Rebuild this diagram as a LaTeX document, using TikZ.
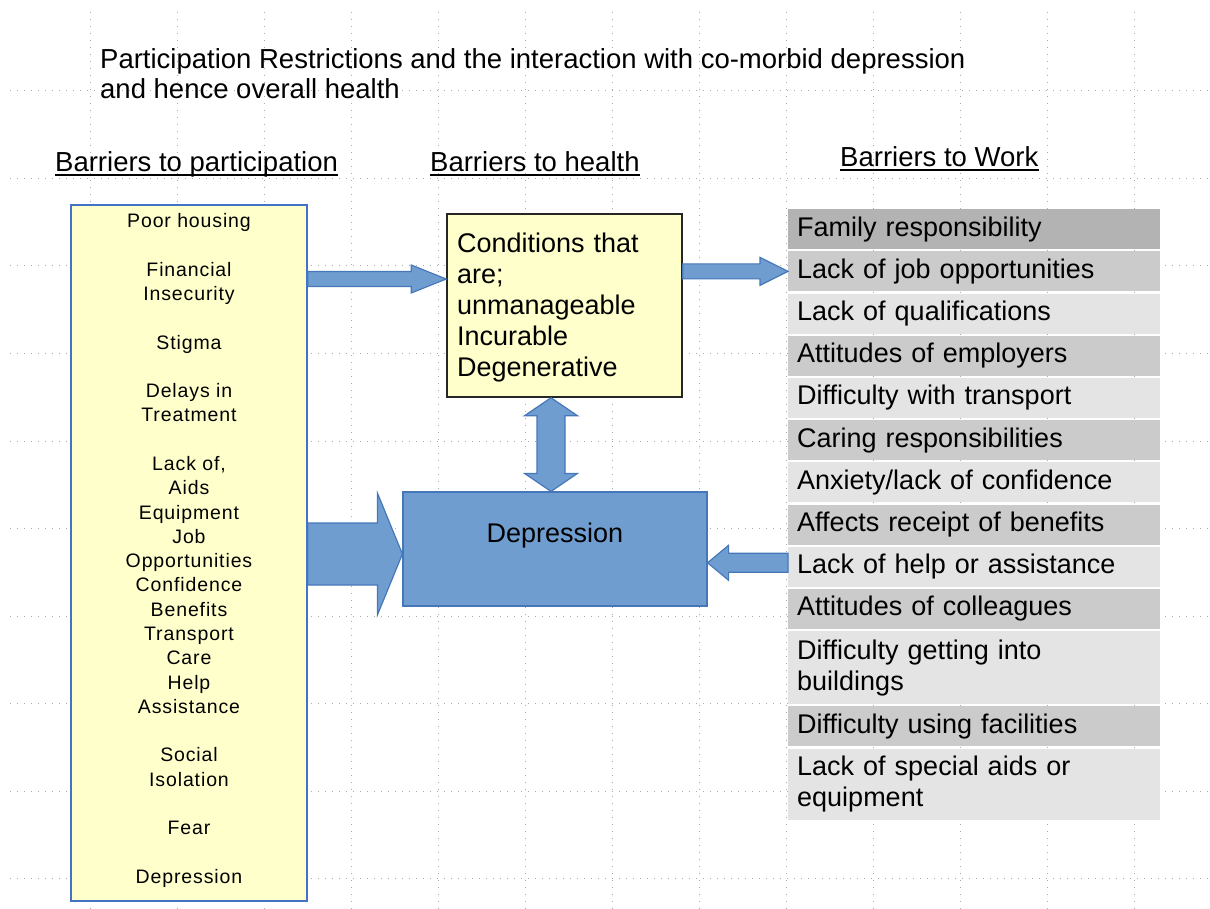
\documentclass[tikz,border=0pt]{standalone}
\usepackage{fontspec}
\setmainfont{Liberation Sans}
\newfontfamily\trackfont[LetterSpace=4.5]{Liberation Sans}
\usetikzlibrary{calc}

\definecolor{paleyellow}{RGB}{255,255,204}
\definecolor{boxblue}{RGB}{68,114,196}
\definecolor{arrowfill}{RGB}{112,157,208}
\definecolor{arrowedge}{RGB}{70,120,185}
\definecolor{rowdark}{RGB}{179,179,179}
\definecolor{rowmid}{RGB}{203,203,203}
\definecolor{rowlight}{RGB}{228,228,228}
\definecolor{gridgray}{RGB}{170,170,170}

\newcommand{\bigtext}{\fontsize{27}{31}\selectfont}
\newcommand{\headtext}{\fontsize{27.5}{30}\selectfont}
\newcommand{\smalltext}{\fontsize{19.5}{24.3}\selectfont}

\tikzset{gridline/.style = {gridgray, line width = 1pt, dash pattern = on 1pt off 6pt}}
\tikzset{heading/.style = {anchor = base west, inner sep = 0, font = \headtext}}
\tikzset{underl/.style = {line width = 1.4pt}}
\tikzset{barbox/.style = {draw = boxblue, line width = 1.5pt, fill = paleyellow, minimum width = 236, minimum height = 696, inner sep = 0, align = center, font = \trackfont\smalltext}}
\tikzset{condbox/.style = {draw = black!85, line width = 1.5pt, fill = paleyellow, minimum width = 235, minimum height = 183, inner sep = 0, text width = 215, align = left, font = \bigtext}}
\tikzset{depbox/.style = {draw = arrowedge, line width = 1.2pt, fill = arrowfill, minimum width = 304, minimum height = 114, inner sep = 0, text height = 19pt, text depth = 33pt, font = \bigtext}}
\tikzset{workrow/.style = {anchor = north west, minimum width = 372, minimum height = 40, inner xsep = 9, inner ysep = 0, text width = 354, align = left, font = \bigtext}}
\tikzset{blockshape/.style = {fill = arrowfill, draw = arrowedge, line width = 1.2pt, line join = miter}}

% from, to, shaft half width, head half width, head length
\newcommand{\fatarrow}[5]{%
  \coordinate (hb) at ($(#2)!#5!(#1)$);
  \draw [blockshape] ($(#1)!#3!90:(#2)$) -- ($(hb)!#3!90:(#2)$) -- ($(hb)!#4!90:(#2)$) -- (#2)
    -- ($(hb)!#4!-90:(#2)$) -- ($(hb)!#3!-90:(#2)$) -- ($(#1)!#3!-90:(#2)$) -- cycle;
}
\newcommand{\fatdoublearrow}[5]{%
  \coordinate (ha) at ($(#1)!#5!(#2)$);
  \coordinate (hb) at ($(#2)!#5!(#1)$);
  \draw [blockshape] (#1) -- ($(ha)!#4!90:(#2)$) -- ($(ha)!#3!90:(#2)$) -- ($(hb)!#3!90:(#2)$) -- ($(hb)!#4!90:(#2)$) -- (#2)
    -- ($(hb)!#4!-90:(#2)$) -- ($(hb)!#3!-90:(#2)$) -- ($(ha)!#3!-90:(#2)$) -- ($(ha)!#4!-90:(#2)$) -- cycle;
}

\begin{document}
\begin{tikzpicture}[x = 1pt, y = -1pt]

    \useasboundingbox [fill = white] (0, 0) rectangle (1210, 909);

    % grid
    \draw [gridline] (90, 12) -- (90, 909);
    \draw [gridline] (177, 12) -- (177, 909);
    \draw [gridline] (264, 12) -- (264, 909);
    \draw [gridline] (351, 12) -- (351, 909);
    \draw [gridline] (438, 12) -- (438, 909);
    \draw [gridline] (525, 12) -- (525, 909);
    \draw [gridline] (612, 12) -- (612, 909);
    \draw [gridline] (699, 12) -- (699, 909);
    \draw [gridline] (786, 12) -- (786, 909);
    \draw [gridline] (873, 12) -- (873, 909);
    \draw [gridline] (960, 12) -- (960, 909);
    \draw [gridline] (1047, 12) -- (1047, 909);
    \draw [gridline] (1134, 12) -- (1134, 909);
    \draw [gridline] (10, 91) -- (1210, 91);
    \draw [gridline] (10, 178.5) -- (1210, 178.5);
    \draw [gridline] (10, 266) -- (1210, 266);
    \draw [gridline] (10, 353.5) -- (1210, 353.5);
    \draw [gridline] (10, 441) -- (1210, 441);
    \draw [gridline] (10, 528.5) -- (1210, 528.5);
    \draw [gridline] (10, 616) -- (1210, 616);
    \draw [gridline] (10, 703.5) -- (1210, 703.5);
    \draw [gridline] (10, 791) -- (1210, 791);
    \draw [gridline] (10, 878.5) -- (1210, 878.5);

    \node [heading, align = left] (title) at (100, 99)
      {Participation Restrictions and the interaction with co-morbid depression\\and hence overall health};

    \node [heading] (hpart) at (55, 172) {Barriers to participation};
    \node [heading] (hhealth) at (430, 172) {Barriers to health};
    \node [heading] (hwork) at (840, 167) {Barriers to Work};
    \draw [underl] ([yshift = -3pt]hpart.base west) -- ([yshift = -3pt]hpart.base east);
    \draw [underl] ([yshift = -3pt]hhealth.base west) -- ([yshift = -3pt]hhealth.base east);
    \draw [underl] ([yshift = -3pt]hwork.base west) -- ([yshift = -3pt]hwork.base east);

    \node [barbox] (barpart) at (189, 553)
      {Poor housing\\[24.2pt] Financial\\Insecurity\\[24.2pt] Stigma\\[24.2pt] Delays in\\Treatment\\[24.2pt]
       Lack of,\\Aids\\Equipment\\Job\\Opportunities\\Confidence\\Benefits\\Transport\\Care\\Help\\Assistance\\[24.2pt]
       Social\\Isolation\\[24.2pt] Fear\\[24.2pt] Depression\rule[-9pt]{0pt}{0pt}};

    \node [condbox] (conds) at (564.5, 305.5) {\rule{0pt}{23pt}Conditions that\\are;\\unmanageable\\Incurable\\Degenerative};
    \node [depbox] (dep) at (555, 549) {Depression};

    \node [workrow, fill = rowdark] (r1) at (788, 209) {Family responsibility};
    \node [workrow, fill = rowmid] (r2) at (788, 251.2) {Lack of job opportunities};
    \node [workrow, fill = rowlight] (r3) at (788, 293.4) {Lack of qualifications};
    \node [workrow, fill = rowmid] (r4) at (788, 335.6) {Attitudes of employers};
    \node [workrow, fill = rowlight] (r5) at (788, 377.8) {Difficulty with transport};
    \node [workrow, fill = rowmid] (r6) at (788, 420) {Caring responsibilities};
    \node [workrow, fill = rowlight] (r7) at (788, 462.2) {Anxiety/lack of confidence};
    \node [workrow, fill = rowmid] (r8) at (788, 504.4) {Affects receipt of benefits};
    \node [workrow, fill = rowlight] (r9) at (788, 546.6) {Lack of help or assistance};
    \node [workrow, fill = rowmid] (r10) at (788, 588.8) {Attitudes of colleagues};
    \node [workrow, fill = rowlight, minimum height = 73] (r11) at (788, 631) {Difficulty getting into\\buildings};
    \node [workrow, fill = rowmid] (r12) at (788, 706.2) {Difficulty using facilities};
    \node [workrow, fill = rowlight, minimum height = 71] (r13) at (788, 748.4) {Lack of special aids or\\equipment};

    \coordinate (a1s) at (barpart.east |- 0, 279);
    \coordinate (a1e) at (conds.west |- a1s);
    \coordinate (a2s) at (conds.east |- r2.west);
    \coordinate (vtop) at ([xshift = -13.5pt]conds.south);
    \coordinate (vbot) at (vtop |- dep.north);
    \coordinate (a4s) at (barpart.east |- 0, 554);
    \coordinate (a4e) at (dep.west |- a4s);
    \coordinate (a5s) at ([yshift = 4pt]r9.west);
    \coordinate (a5e) at (dep.east |- a5s);

    \fatarrow{a1s}{a1e}{7.5pt}{14pt}{35pt}
    \fatarrow{a2s}{r2.west}{7.5pt}{14pt}{28pt}
    \fatdoublearrow{vtop}{vbot}{14pt}{26.5pt}{18pt}
    \fatarrow{a4s}{a4e}{31pt}{61pt}{25pt}
    \fatarrow{a5s}{a5e}{9.5pt}{17.5pt}{21pt}

  \end{tikzpicture}
\end{document}
